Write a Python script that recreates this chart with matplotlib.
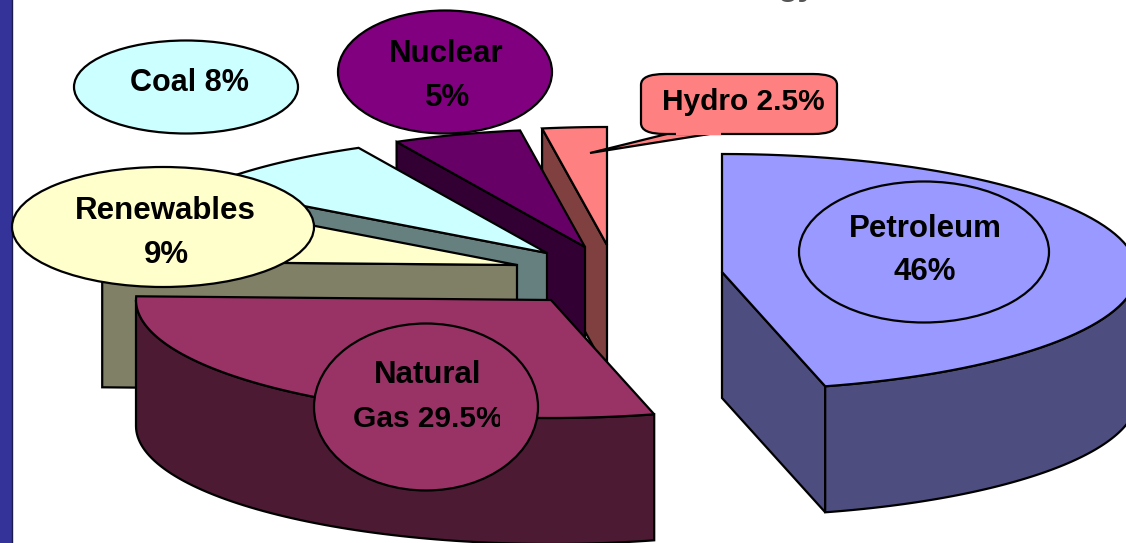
import numpy as np
import matplotlib
matplotlib.use('Agg')
import matplotlib.pyplot as plt
from matplotlib.patches import Ellipse, FancyBboxPatch, Polygon, Rectangle

plt.rcParams['font.family'] = ['Liberation Sans', 'DejaVu Sans']

# shares of the pie, clockwise from 12 o'clock
names = ['Petroleum', 'Natural Gas', 'Renewables', 'Coal', 'Nuclear', 'Hydro']
shares = [46, 29.5, 9, 8, 5, 2.5]

# layout, in pixels of the picture
apex_x = [722, 551, 517, 547, 585, 607]
apex_y = [272, 300, 265, 253, 247, 245]
top_colors = ['#9999ff', '#993366', '#ffffcc', '#ccffff', '#660066', '#ff8080']
side_colors = ['#4d4d80', '#4d1a33', '#808066', '#668080', '#330033', '#804040']
RX, RY, DEPTH = 415, 118, 126
LW = 1.6


def rimPoints(cx, cy, a0, a1, n=80):
    phi = np.radians(np.linspace(a0, a1, n))
    return np.column_stack([cx + RX*np.sin(phi), cy - RY*np.cos(phi)])


def down(pts):
    return pts + np.array([0, DEPTH])


def drawSlice(ax, cx, cy, a0, a1, top, side, z):
    apex = np.array([[cx, cy]])
    # flat side at the start or end of the slice, when it looks to the front
    for a, on in ((a0, np.sin(np.radians(a0)) < 0), (a1, np.sin(np.radians(a1)) > 0)):
        if on:
            edge = np.vstack([apex, rimPoints(cx, cy, a, a, 1)])
            ax.add_patch(Polygon(np.vstack([edge, down(edge)[::-1]]), fc=side, ec='k', lw=LW, zorder=z))
    # outer wall, only the part in front
    b0, b1 = max(a0, 90), min(a1, 270)
    if b0 < b1:
        rim = rimPoints(cx, cy, b0, b1)
        ax.add_patch(Polygon(np.vstack([rim, down(rim)[::-1]]), fc=side, ec='k', lw=LW, zorder=z))
    ax.add_patch(Polygon(np.vstack([apex, rimPoints(cx, cy, a0, a1)]), fc=top, ec='k', lw=LW, zorder=z + 0.5))


def label(ax, x, y, s, size=22.5, clip=None):
    t = ax.text(x, y, s, ha='center', va='center', fontsize=size, fontweight='bold', color='k', zorder=20)
    if clip is not None:
        t.set_clip_on(True)
        t.set_clip_path(clip)


fig = plt.figure(figsize=(11.26, 5.43), dpi=100)
ax = fig.add_axes([0, 0, 1, 1])
ax.set_xlim(0, 1126)
ax.set_ylim(543, 0)
ax.axis('off')

# slide border on the left
ax.add_patch(Rectangle((-5, -5), 17, 553, fc='#333399', ec='#1a1a4d', lw=1, zorder=1))

# end of the slide title, only its tails are inside the picture
ax.text(797, -5.5, 'gy', ha='center', va='baseline', fontsize=24, fontweight='bold', color='#555555', zorder=1)

# back slices first
edges = np.concatenate([[0], np.cumsum(shares)]) * 3.6
n = len(shares)
for i in range(n - 1, -1, -1):
    drawSlice(ax, apex_x[i], apex_y[i], edges[i], edges[i + 1], top_colors[i], side_colors[i], 2 + n - i)

# label bubbles
ax.add_patch(Ellipse((924, 252), 250, 141, fc=top_colors[0], ec='k', lw=LW, zorder=15))
ax.add_patch(Ellipse((426, 407), 224, 167, fc=top_colors[1], ec='k', lw=LW, zorder=15))
ax.add_patch(Ellipse((163, 227), 302, 120, fc=top_colors[2], ec='k', lw=LW, zorder=15))
ax.add_patch(Ellipse((186, 87), 224, 93, fc=top_colors[3], ec='k', lw=LW, zorder=15))
ax.add_patch(Ellipse((445, 72), 214, 123, fc='#800080', ec='k', lw=LW, zorder=15))

# hydro callout, box and tail
ax.add_patch(Polygon([(675, 132), (590, 153), (722, 132)], fc=top_colors[5], ec='k', lw=LW, zorder=15))
ax.add_patch(FancyBboxPatch((641, 74), 196, 60, boxstyle='round,pad=0,rounding_size=24', mutation_aspect=0.45,
                            fc=top_colors[5], ec='k', lw=LW, zorder=16))
ax.add_patch(Rectangle((676, 128), 45, 7, fc=top_colors[5], ec='none', zorder=17))

label(ax, 925, 229, 'Petroleum')
label(ax, 925, 272, '46%')
label(ax, 428, 375, 'Natural')
label(ax, 428, 419, 'Gas 29.5%', size=21.5, clip=Rectangle((300, 390), 200, 60, transform=ax.transData))
label(ax, 165, 211, 'Renewables')
label(ax, 166, 255, '9%')
label(ax, 189, 83, 'Coal 8%', size=22)
label(ax, 446, 54, 'Nuclear')
label(ax, 448, 98, '5%')
label(ax, 743, 102, 'Hydro 2.5%', size=21.5)

fig.savefig('out.png', dpi=100)
